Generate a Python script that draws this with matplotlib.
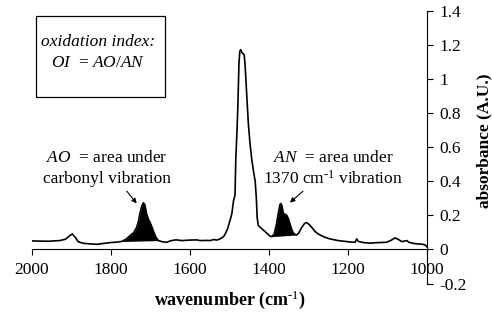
import numpy as np
import matplotlib
matplotlib.use("Agg")
from matplotlib import pyplot as plt
from matplotlib.patches import Rectangle
from matplotlib.ticker import FuncFormatter

plt.rcParams['font.family'] = ['Liberation Serif', 'DejaVu Serif']
plt.rcParams['mathtext.fontset'] = 'custom'
plt.rcParams['mathtext.rm'] = 'Liberation Serif'
plt.rcParams['mathtext.it'] = 'Liberation Serif:italic'
plt.rcParams['mathtext.bf'] = 'Liberation Serif:bold'
plt.rcParams['axes.unicode_minus'] = False

# spectrum (wavenumber, absorbance)
wavenumber = [2000, 1960, 1930, 1915, 1905, 1898, 1890, 1883, 1870, 1850, 1836, 1820,
              1803, 1785, 1773, 1762, 1752, 1742, 1735, 1730, 1727, 1722, 1718, 1714,
              1710, 1705, 1701, 1697, 1693, 1687, 1680, 1670, 1659, 1650, 1640, 1634,
              1620, 1600, 1583, 1575, 1560, 1549, 1540, 1532, 1524, 1515, 1511, 1505,
              1499, 1494, 1490, 1486, 1484, 1481, 1479, 1476, 1474, 1472, 1470, 1468,
              1463, 1461, 1459, 1455, 1452, 1448, 1444, 1440, 1435, 1432, 1430, 1427,
              1422, 1415, 1410, 1403, 1397, 1393, 1387, 1381, 1376, 1372, 1370, 1367,
              1364, 1360, 1355, 1351, 1347, 1343, 1338, 1334, 1330, 1325, 1317, 1310,
              1305, 1300, 1292, 1283, 1275, 1260, 1246, 1225, 1203, 1190, 1182, 1178,
              1174, 1160, 1144, 1125, 1102, 1090, 1081, 1072, 1064, 1055, 1051, 1046,
              1036, 1026, 1010, 1004, 1000]
absorbance = [0.050, 0.048, 0.052, 0.060, 0.080, 0.091, 0.070, 0.045, 0.036, 0.032, 0.030, 0.035,
              0.040, 0.043, 0.047, 0.060, 0.081, 0.100, 0.130, 0.170, 0.210, 0.255, 0.274, 0.260,
              0.210, 0.175, 0.158, 0.135, 0.110, 0.075, 0.052, 0.045, 0.042, 0.050, 0.055, 0.056,
              0.052, 0.055, 0.056, 0.052, 0.053, 0.052, 0.058, 0.055, 0.062, 0.075, 0.090, 0.120,
              0.168, 0.210, 0.284, 0.320, 0.535, 0.700, 0.825, 1.096, 1.160, 1.173, 1.165, 1.154,
              1.144, 1.100, 1.020, 0.850, 0.730, 0.620, 0.535, 0.470, 0.400, 0.300, 0.187, 0.140,
              0.130, 0.115, 0.105, 0.090, 0.078, 0.075, 0.090, 0.149, 0.220, 0.265, 0.270, 0.255,
              0.215, 0.207, 0.200, 0.180, 0.150, 0.120, 0.095, 0.088, 0.085, 0.095, 0.130, 0.152,
              0.158, 0.150, 0.130, 0.105, 0.090, 0.073, 0.062, 0.052, 0.046, 0.043, 0.042, 0.062,
              0.047, 0.040, 0.037, 0.040, 0.042, 0.055, 0.068, 0.058, 0.046, 0.050, 0.052, 0.042,
              0.036, 0.033, 0.030, 0.025, 0.015]

ao_range = (1775, 1680)   # carbonyl band
an_range = (1393, 1330)   # 1370 cm-1 band
x_ticks = [2000, 1800, 1600, 1400, 1200, 1000]
y_ticks = [-0.2, 0, 0.2, 0.4, 0.6, 0.8, 1, 1.2, 1.4]


def fill_band(ax, x, y, lo_hi):
    hi, lo = lo_hi
    xs = x[::-1]
    ys = y[::-1]
    y_hi = np.interp(hi, xs, ys)
    y_lo = np.interp(lo, xs, ys)
    mask = (x <= hi) & (x >= lo)
    xb = np.concatenate(([hi], x[mask], [lo]))
    yb = np.concatenate(([y_hi], y[mask], [y_lo]))
    base = np.interp(xb, [lo, hi], [y_lo, y_hi])
    ax.fill_between(xb, base, yb, color='black', lw=0)


def main():
    x = np.array(wavenumber, dtype=float)
    y = np.array(absorbance)

    fig = plt.figure(figsize=(4.92, 3.21), dpi=100)
    ax = fig.add_axes([32 / 492, 1 - 283.5 / 321, 395 / 492, 272.5 / 321])

    ax.plot(x, y, color='black', lw=1.2)
    fill_band(ax, x, y, ao_range)
    fill_band(ax, x, y, an_range)

    ax.set_xlim(2000, 1000)
    ax.set_ylim(-0.2, 1.4)
    ax.spines['left'].set_visible(False)
    ax.spines['top'].set_visible(False)
    ax.spines['bottom'].set_position(('data', 0))
    ax.spines['bottom'].set_bounds(2000, 1000)
    ax.spines['right'].set_bounds(-0.2, 1.4)
    ax.yaxis.tick_right()
    ax.set_xticks(x_ticks)
    ax.set_yticks(y_ticks)
    ax.yaxis.set_major_formatter(FuncFormatter(lambda v, p: '%g' % v))
    ax.tick_params(axis='both', direction='out', length=4, width=0.8, labelsize=12.5)
    ax.tick_params(axis='x', pad=5)
    ax.tick_params(axis='y', pad=5)

    fig.text(230 / 492, 1 - 300 / 321, r'wavenumber (cm$^{\mathbf{\text{-1}}}$)',
             ha='center', va='center', fontsize=13, fontweight='bold')
    fig.text(484 / 492, 1 - 141 / 321, 'absorbance (A.U.)', rotation=90,
             ha='center', va='center', fontsize=12.5, fontweight='bold')

    # oxidation index box
    fig.patches.append(Rectangle((36 / 492, 1 - 97 / 321), 129 / 492, 81 / 321,
                                 transform=fig.transFigure, fill=False, ec='black', lw=0.9))
    fig.text(98 / 492, 1 - 42 / 321, 'oxidation index:', style='italic',
             ha='center', va='center', fontsize=12.5)
    fig.text(98 / 492, 1 - 63 / 321, r'$OI$  = $AO/AN$',
             ha='center', va='center', fontsize=12.5)

    ax.text(1810, 0.535, r'$AO$  = area under', ha='center', va='center', fontsize=12.5)
    ax.text(1810, 0.415, 'carbonyl vibration', ha='center', va='center', fontsize=12.5)
    ax.text(1237, 0.535, r'$AN$  = area under', ha='center', va='center', fontsize=12.5)
    ax.text(1237, 0.415, r'1370 cm$^{\text{-1}}$ vibration', ha='center', va='center', fontsize=12.5)

    ax.annotate('', xy=(1735, 0.27), xytext=(1760, 0.342),
                arrowprops=dict(arrowstyle='-|>', color='black', lw=0.8,
                                mutation_scale=7, shrinkA=0, shrinkB=0))
    ax.annotate('', xy=(1347, 0.275), xytext=(1314, 0.342),
                arrowprops=dict(arrowstyle='-|>', color='black', lw=0.8,
                                mutation_scale=7, shrinkA=0, shrinkB=0))

    fig.savefig('out.png', dpi=100)
    plt.close()


if __name__ == "__main__":
    main()
